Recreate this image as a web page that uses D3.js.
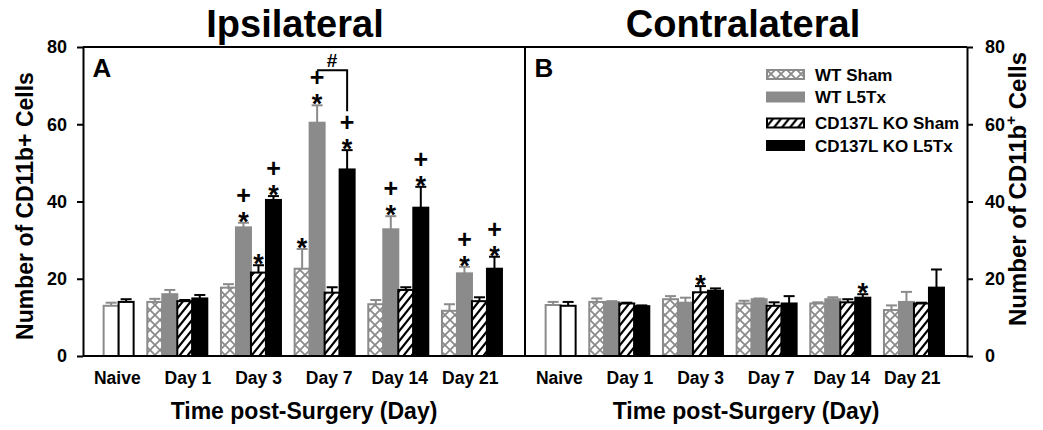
<!DOCTYPE html>
<html>
<head>
<meta charset="utf-8">
<script src="https://cdn.jsdelivr.net/npm/d3@7"></script>
<style>
  html, body { margin: 0; padding: 0; background: #fff; }
  svg { display: block; font-family: "Liberation Sans", Arial, Helvetica, sans-serif; font-weight: bold; }
</style>
</head>
<body>
<svg id="chart" width="1043" height="430"></svg>
<script>
// ---- data -------------------------------------------------------------
const categories = ["Naive", "Day 1", "Day 3", "Day 7", "Day 14", "Day 21"];
const days = categories.slice(1);
const groups = ["WT Sham", "WT L5Tx", "CD137L KO Sham", "CD137L KO L5Tx"];
const naiveGroups = ["WT Naive", "CD137L KO Naive"];
const yTicks = [0, 20, 40, 60, 80];

// Ipsilateral (mean, SEM) for Day 1 .. Day 21
const ipsiWTSham     = [14.0, 17.7, 22.6, 13.4, 11.7];
const ipsiWTShamSem  = [0.8, 0.9, 5.1, 1.1, 1.7];
const ipsiWTL5Tx     = [16.0, 33.3, 60.4, 32.8, 21.4];
const ipsiWTL5TxSem  = [1.1, 1.2, 4.5, 3.4, 1.7];
const ipsiKOSham     = [14.2, 21.6, 16.4, 17.1, 14.2];
const ipsiKOShamSem  = [0.3, 1.9, 1.4, 0.7, 1.0];
const ipsiKOL5Tx     = [14.9, 40.4, 48.3, 38.4, 22.6];
const ipsiKOL5TxSem  = [0.9, 1.0, 5.0, 5.4, 3.1];
const ipsiNaive      = [13.0, 14.0];
const ipsiNaiveSem   = [0.8, 0.7];

// Contralateral (mean, SEM) for Day 1 .. Day 21
const contraWTSham    = [14.0, 14.7, 13.6, 13.6, 11.9];
const contraWTShamSem = [0.9, 0.8, 0.7, 0.3, 1.2];
const contraWTL5Tx    = [14.0, 13.8, 14.7, 14.7, 14.0];
const contraWTL5TxSem = [0.2, 1.3, 0.2, 0.5, 2.6];
const contraKOSham    = [13.6, 16.5, 13.0, 13.9, 13.6];
const contraKOShamSem = [0.2, 1.6, 0.9, 0.8, 0.2];
const contraKOL5Tx    = [12.9, 16.9, 13.6, 15.1, 17.7];
const contraKOL5TxSem = [0.2, 0.6, 1.9, 0.9, 4.7];
const contraNaive     = [13.2, 13.0];
const contraNaiveSem  = [0.8, 1.0];

// significance marks: "*" vs sham/naive, "+" vs genotype control
const ipsiMarksWTSham   = ["", "", "*", "", ""];
const ipsiMarksWTL5Tx   = ["", "*+", "*+", "*+", "*+"];
const ipsiMarksKOSham   = ["", "*", "", "", ""];
const ipsiMarksKOL5Tx   = ["", "*+", "*+", "*+", "*+"];
const contraMarksWTSham = ["", "", "", "", ""];
const contraMarksWTL5Tx = ["", "", "", "", ""];
const contraMarksKOSham = ["", "*", "", "", ""];
const contraMarksKOL5Tx = ["", "", "", "*", ""];

// "#" comparison between genotypes (ipsilateral, Day 7, L5Tx)
const hashDay = "Day 7";
const hashPair = [1, 3];

// ---- layout ------------------------------------------------------------
const GRAY = "#8b8b8b";
const svg = d3.select("#chart");
const y = d3.scaleLinear().domain([0, 80]).range([356, 47]);

const defs = svg.append("defs");
const ch = defs.append("pattern").attr("id", "crosshatch")
  .attr("patternUnits", "userSpaceOnUse").attr("width", 10).attr("height", 10);
ch.append("rect").attr("width", 10).attr("height", 10).attr("fill", "#fff");
ch.append("path").attr("d", "M0,0L10,10M10,0L0,10")
  .attr("stroke", GRAY).attr("stroke-width", 1.8).attr("fill", "none");

const hp = defs.append("pattern").attr("id", "hatch")
  .attr("patternUnits", "userSpaceOnUse").attr("width", 8).attr("height", 10);
hp.append("rect").attr("width", 8).attr("height", 10).attr("fill", "#fff");
hp.append("path").attr("d", "M-2,2.5L2,-2.5M0,10L8,0M6,12.5L10,7.5")
  .attr("stroke", "#000").attr("stroke-width", 2.2).attr("fill", "none");

const styles = [
  { fill: "url(#crosshatch)", stroke: GRAY },
  { fill: GRAY, stroke: GRAY },
  { fill: "url(#hatch)", stroke: "#000" },
  { fill: "#000", stroke: "#000" }
];
const naiveStyles = [
  { fill: "#fff", stroke: GRAY },
  { fill: "#fff", stroke: "#000" }
];

const panels = [
  {
    x0: 83, x1: 525, title: "Ipsilateral", titleX: 295, letter: "A",
    series: [
      { mean: ipsiWTSham, sem: ipsiWTShamSem, marks: ipsiMarksWTSham },
      { mean: ipsiWTL5Tx, sem: ipsiWTL5TxSem, marks: ipsiMarksWTL5Tx },
      { mean: ipsiKOSham, sem: ipsiKOShamSem, marks: ipsiMarksKOSham },
      { mean: ipsiKOL5Tx, sem: ipsiKOL5TxSem, marks: ipsiMarksKOL5Tx }
    ],
    naive: { mean: ipsiNaive, sem: ipsiNaiveSem },
    hash: true
  },
  {
    x0: 525, x1: 967, title: "Contralateral", titleX: 743, letter: "B",
    series: [
      { mean: contraWTSham, sem: contraWTShamSem, marks: contraMarksWTSham },
      { mean: contraWTL5Tx, sem: contraWTL5TxSem, marks: contraMarksWTL5Tx },
      { mean: contraKOSham, sem: contraKOShamSem, marks: contraMarksKOSham },
      { mean: contraKOL5Tx, sem: contraKOL5TxSem, marks: contraMarksKOL5Tx }
    ],
    naive: { mean: contraNaive, sem: contraNaiveSem },
    hash: false
  }
];

const slot = d3.scaleBand().domain(d3.range(4)).range([-30, 30]);

panels.forEach(p => {
  const gx = d3.scalePoint().domain(categories).range([p.x0, p.x1]).padding(0.5).align(0.28);
  const lx = d3.scalePoint().domain(categories).range([p.x0, p.x1]).padding(0.63).align(0.38);

  const bars = [];
  p.series.forEach((s, gi) => days.forEach((d, di) => bars.push({
    cat: d, slot: gi, mean: s.mean[di], sem: s.sem[di], mark: s.marks[di], style: styles[gi]
  })));
  p.naive.mean.forEach((m, i) => bars.push({
    cat: "Naive", slot: i + 2, mean: m, sem: p.naive.sem[i], mark: "", style: naiveStyles[i]
  }));
  bars.sort((a, b) => a.slot - b.slot);
  const bx = b => gx(b.cat) + slot(b.slot);
  const bc = b => bx(b) + slot.bandwidth() / 2;

  const g = svg.append("g");
  g.selectAll("rect.bar").data(bars).join("rect").attr("class", "bar")
    .attr("x", bx).attr("width", slot.bandwidth())
    .attr("y", b => y(b.mean)).attr("height", b => y(0) - y(b.mean))
    .attr("fill", b => b.style.fill).attr("stroke", b => b.style.stroke)
    .attr("stroke-width", 2);

  // upper error bars
  const eb = g.selectAll("g.err").data(bars).join("g").attr("class", "err")
    .attr("stroke", b => b.style.stroke).attr("stroke-width", 2);
  eb.append("line").attr("x1", bc).attr("x2", bc)
    .attr("y1", b => y(b.mean)).attr("y2", b => y(b.mean + b.sem));
  eb.append("line").attr("x1", b => bc(b) - 5.5).attr("x2", b => bc(b) + 5.5)
    .attr("y1", b => y(b.mean + b.sem)).attr("y2", b => y(b.mean + b.sem));

  // significance marks
  const marked = bars.filter(b => b.mark);
  g.selectAll("text.star").data(marked.filter(b => b.mark.includes("*"))).join("text")
    .attr("class", "star").attr("x", bc).attr("y", b => y(b.mean + b.sem) + 8)
    .attr("text-anchor", "middle").attr("font-size", 27).text("*");
  g.selectAll("text.plus").data(marked.filter(b => b.mark.includes("+"))).join("text")
    .attr("class", "plus").attr("x", bc).attr("y", b => y(b.mean + b.sem) - 19)
    .attr("text-anchor", "middle").attr("font-size", 25).text("+");

  if (p.hash) {
    const a = bars.find(b => b.cat === hashDay && b.slot === hashPair[0]);
    const c = bars.find(b => b.cat === hashDay && b.slot === hashPair[1]);
    const top = y(a.mean + a.sem) - 35;
    const legEnd = y(c.mean + c.sem) - 39;
    g.append("path").attr("d", `M${bc(a)},${top}H${bc(c)}V${legEnd}`)
      .attr("fill", "none").attr("stroke", "#000").attr("stroke-width", 2);
    g.append("text").attr("x", (bc(a) + bc(c)) / 2).attr("y", top - 3.5)
      .attr("text-anchor", "middle").attr("font-size", 19).text("#");
  }

  // category labels
  const xa = svg.append("g").attr("transform", `translate(0,${y(0)})`)
    .call(d3.axisBottom(lx).tickSize(0).tickPadding(16));
  xa.select(".domain").remove();
  xa.selectAll("text").attr("font-size", 17.5).attr("font-weight", "bold")
    .attr("font-family", "'Liberation Sans', Arial, sans-serif").attr("fill", "#000");

  svg.append("text").attr("x", (p.x0 + p.x1) / 2).attr("y", 419)
    .attr("text-anchor", "middle").attr("font-size", 23).text("Time post-Surgery (Day)");
  svg.append("text").attr("x", p.titleX).attr("y", 37)
    .attr("text-anchor", "middle").attr("font-size", 38).text(p.title);
  svg.append("text").attr("x", p.x0 + 19).attr("y", 77)
    .attr("text-anchor", "middle").attr("font-size", 26).text(p.letter);
});

// frame
const frame = svg.append("g").attr("stroke", "#000").attr("stroke-width", 2);
frame.append("line").attr("x1", 83).attr("x2", 967).attr("y1", y(80)).attr("y2", y(80));
frame.append("line").attr("x1", 83).attr("x2", 967).attr("y1", y(0)).attr("y2", y(0));
frame.append("line").attr("x1", 525).attr("x2", 525).attr("y1", y(0)).attr("y2", y(80));

function styleAxis(sel) {
  sel.selectAll("path,line").attr("stroke", "#000").attr("stroke-width", 2);
  sel.selectAll("text").attr("font-size", 18).attr("font-weight", "bold")
    .attr("font-family", "'Liberation Sans', Arial, sans-serif").attr("fill", "#000");
}
svg.append("g").attr("transform", "translate(83,0)")
  .call(d3.axisLeft(y).tickValues(yTicks).tickSize(6).tickSizeOuter(0).tickPadding(10))
  .call(styleAxis);
svg.append("g").attr("transform", "translate(967,0)")
  .call(d3.axisRight(y).tickValues(yTicks).tickSize(6).tickSizeOuter(0).tickPadding(12))
  .call(styleAxis);

// axis titles
svg.append("text").attr("transform", "translate(33,206) rotate(-90)")
  .attr("text-anchor", "middle").attr("font-size", 23).text("Number of CD11b+ Cells");
const rt = svg.append("text").attr("transform", "translate(1026,189) rotate(-90)")
  .attr("text-anchor", "middle").attr("font-size", 24);
rt.append("tspan").text("Number of CD11b");
rt.append("tspan").attr("font-size", 15).attr("dy", -10).text("+");
rt.append("tspan").attr("dy", 10).text(" Cells");

// legend
const legendStyles = [
  { fill: "url(#crosshatch)", stroke: GRAY },
  { fill: GRAY, stroke: GRAY },
  { fill: "url(#hatch)", stroke: "#000" },
  { fill: "#000", stroke: "#000" }
];
const lg = svg.append("g").attr("transform", "translate(766,69)");
const rows = lg.selectAll("g").data(groups).join("g")
  .attr("transform", (d, i) => `translate(0,${i * 22.5 + (i >= 2 ? 3.5 : 0)})`);
rows.append("rect").attr("x", 1).attr("y", 1).attr("width", 37).attr("height", 9)
  .attr("fill", (d, i) => legendStyles[i].fill).attr("stroke", (d, i) => legendStyles[i].stroke)
  .attr("stroke-width", 2);
rows.append("text").attr("x", 49).attr("y", 11.5).attr("font-size", 17).text(d => d);
</script>
</body>
</html>
